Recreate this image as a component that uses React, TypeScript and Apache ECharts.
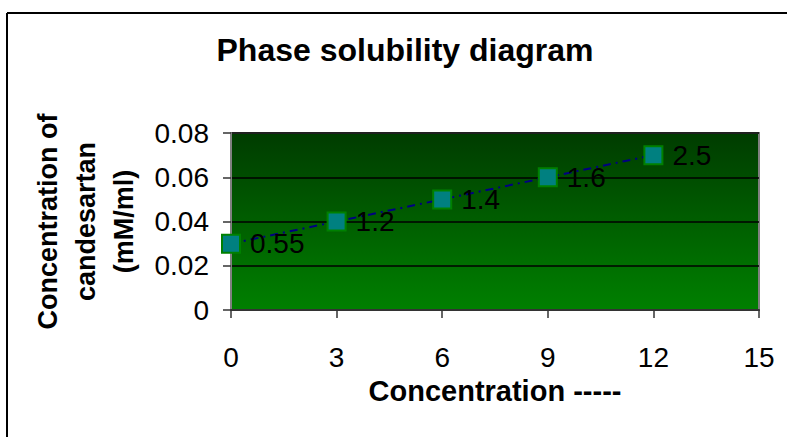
import React, { useEffect, useRef } from "react";
import * as echarts from "echarts";

const concentrations = [0, 3, 6, 9, 12];
const solubility = [0.03, 0.04, 0.05, 0.06, 0.07];
const pointLabels = ["0.55", "1.2", "1.4", "1.6", "2.5"];
const titleText = "Phase solubility diagram";
const xAxisName = "Concentration -----";
const yAxisName = "Concentration of\ncandesartan\n(mM/ml)";

export default function App() {
  const ref = useRef<HTMLDivElement>(null);
  useEffect(() => {
    if (!ref.current) return;
    const chart = echarts.init(ref.current, null, { renderer: "svg" });
    const font = "Liberation Sans, Arial, sans-serif";
    chart.setOption({
      animation: false,
      backgroundColor: "#ffffff",
      textStyle: { fontFamily: font },
      graphic: [
        {
          type: "line",
          shape: { x1: 7, y1: 13, x2: 787, y2: 13 },
          style: { stroke: "#000", lineWidth: 2 },
        },
        {
          type: "line",
          shape: { x1: 7, y1: 13, x2: 7, y2: 437 },
          style: { stroke: "#000", lineWidth: 2 },
        },
        {
          type: "text",
          x: 405,
          y: 50,
          style: {
            text: titleText,
            font: "bold 32px " + font,
            fill: "#000",
            textAlign: "center",
            textVerticalAlign: "middle",
          },
        },
      ],
      grid: {
        left: 231,
        right: 28,
        top: 133,
        bottom: 127,
        show: true,
        borderColor: "#808080",
        borderWidth: 2,
        backgroundColor: new echarts.graphic.LinearGradient(0, 0, 0, 1, [
          { offset: 0, color: "#003c00" },
          { offset: 1, color: "#008000" },
        ]),
      },
      xAxis: {
        type: "value",
        min: 0,
        max: 15,
        interval: 3,
        name: xAxisName,
        nameLocation: "middle",
        nameGap: 66,
        nameTextStyle: { fontSize: 29, fontWeight: "bold", color: "#000" },
        axisLine: { show: true, onZero: false, lineStyle: { color: "#333", width: 2 } },
        axisTick: { show: true, length: 8, lineStyle: { color: "#333", width: 1.5 } },
        axisLabel: { fontSize: 28, color: "#000", margin: 33 },
        splitLine: { show: false },
      },
      yAxis: {
        type: "value",
        min: 0,
        max: 0.08,
        interval: 0.02,
        name: yAxisName,
        nameLocation: "middle",
        nameRotate: 90,
        nameGap: 88,
        nameTextStyle: { fontSize: 27, fontWeight: "bold", color: "#000", lineHeight: 38, align: "center" },
        axisLine: { show: true, lineStyle: { color: "#808080", width: 2 } },
        axisTick: { show: true, length: 8, lineStyle: { color: "#333", width: 1.5 } },
        axisLabel: { fontSize: 28, color: "#000", margin: 22 },
        splitLine: { show: true, lineStyle: { color: "#000", width: 1.5 } },
      },
      series: [
        {
          type: "line",
          data: concentrations.map((x, i) => [x, solubility[i]]),
          symbol: "rect",
          symbolSize: 18,
          itemStyle: { color: "#008080", borderColor: "#008000", borderWidth: 2 },
          lineStyle: { color: "#000080", width: 2, type: [8, 5, 2, 5] },
          label: {
            show: true,
            position: "right",
            distance: 9,
            fontSize: 28,
            color: "#000",
            formatter: (p: any) => pointLabels[p.dataIndex],
          },
        },
      ],
    });
    return () => chart.dispose();
  }, []);
  return (
    <div
      ref={ref}
      style={{ position: "absolute", left: 0, top: 0, width: 787, height: 437 }}
    />
  );
}
